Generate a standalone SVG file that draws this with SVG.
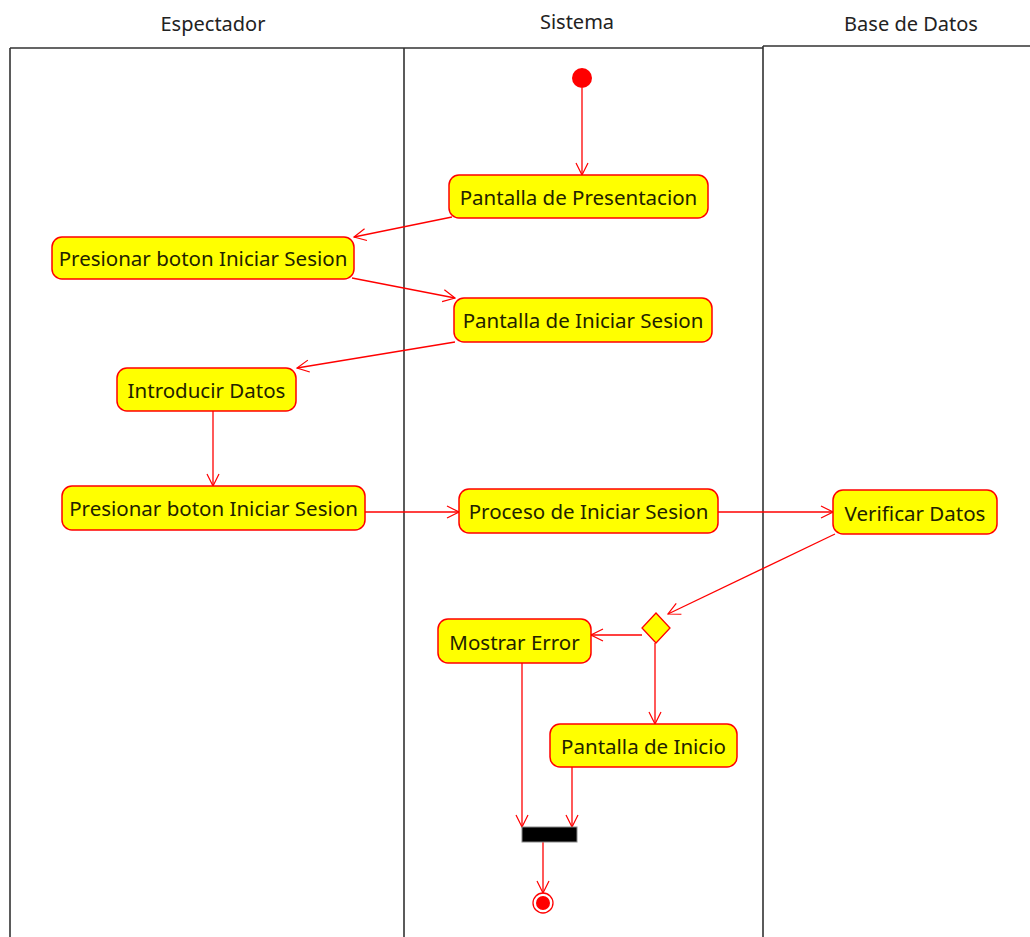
<svg xmlns="http://www.w3.org/2000/svg" width="1030" height="937" viewBox="0 0 1030 937">
  <defs>
    <marker id="open" viewBox="0 0 14 14" refX="13" refY="7" markerWidth="14" markerHeight="14" markerUnits="userSpaceOnUse" orient="auto">
      <path d="M1,1 L13,7 L1,13" fill="none" stroke="#ff0000" stroke-width="1.2"/>
    </marker>
  </defs>
  <style>
    .lane { stroke: #333; stroke-width: 1.6; fill: none; }
    .title { font-family: "Noto Sans", "Open Sans", sans-serif; font-size: 20px; fill: #222; text-anchor: middle; }
    .act rect { fill: #ffff00; stroke: #ff0000; stroke-width: 1.5; }
    .act text { font-family: "Noto Sans", "Open Sans", sans-serif; font-size: 20.5px; fill: #222200; text-anchor: middle; dominant-baseline: central; }
    .flow { stroke: #ff0000; stroke-width: 1.3; fill: none; marker-end: url(#open); }
  </style>
  <rect width="1030" height="937" fill="#ffffff"/>

  <!-- swimlanes -->
  <g id="lanes">
    <text class="title" x="213" y="31">Espectador</text>
    <text class="title" x="577" y="29">Sistema</text>
    <text class="title" x="911" y="31">Base de Datos</text>
    <path class="lane" d="M10,48 H763 M763,46 H1030 M10,48 V937 M404,48 V937 M763,46 V937"/>
  </g>

  <!-- connectors -->
  <g id="connectors">
    <line class="flow" x1="582" y1="88" x2="582" y2="175"/>
    <line class="flow" x1="452" y1="217" x2="354" y2="237"/>
    <line class="flow" x1="352" y1="278" x2="455" y2="298"/>
    <line class="flow" x1="455" y1="342" x2="297" y2="368"/>
    <line class="flow" x1="213" y1="411" x2="213" y2="486"/>
    <line class="flow" x1="365" y1="512" x2="459" y2="512"/>
    <line class="flow" x1="718" y1="512" x2="833" y2="512"/>
    <line class="flow" x1="835" y1="534" x2="668" y2="614"/>
    <line class="flow" x1="642" y1="635" x2="591" y2="635"/>
    <line class="flow" x1="655" y1="643" x2="655" y2="724"/>
    <line class="flow" x1="522" y1="663" x2="522" y2="827"/>
    <line class="flow" x1="572" y1="767" x2="572" y2="827"/>
    <line class="flow" x1="543" y1="842" x2="543" y2="893"/>
  </g>

  <!-- start -->
  <g id="start">
    <circle cx="582" cy="78" r="10" fill="#ff0000"/>
  </g>

  <g id="pantallaPresentacion" class="act">
    <rect x="449" y="175" width="259" height="43" rx="10"/>
    <text x="578.5" y="197">Pantalla de Presentacion</text>
  </g>

  <g id="presionarBoton1" class="act">
    <rect x="52" y="237" width="302" height="42" rx="10"/>
    <text x="203" y="258">Presionar boton Iniciar Sesion</text>
  </g>

  <g id="pantallaIniciarSesion" class="act">
    <rect x="454" y="298" width="258" height="44" rx="10"/>
    <text x="583" y="320">Pantalla de Iniciar Sesion</text>
  </g>

  <g id="introducirDatos" class="act">
    <rect x="117" y="368" width="179" height="43" rx="10"/>
    <text x="206.5" y="390">Introducir Datos</text>
  </g>

  <g id="presionarBoton2" class="act">
    <rect x="62" y="486" width="303" height="44" rx="10"/>
    <text x="213.5" y="508">Presionar boton Iniciar Sesion</text>
  </g>

  <g id="procesoIniciarSesion" class="act">
    <rect x="459" y="489" width="259" height="44" rx="10"/>
    <text x="588.5" y="511">Proceso de Iniciar Sesion</text>
  </g>

  <g id="verificarDatos" class="act">
    <rect x="833" y="490" width="164" height="44" rx="10"/>
    <text x="915" y="513">Verificar Datos</text>
  </g>

  <g id="decision">
    <polygon points="656,613 670,628 656,643 642,628" fill="#ffff00" stroke="#ff0000" stroke-width="1.3"/>
  </g>

  <g id="mostrarError" class="act">
    <rect x="438" y="619" width="153" height="44" rx="10"/>
    <text x="514.5" y="642">Mostrar Error</text>
  </g>

  <g id="pantallaInicio" class="act">
    <rect x="550" y="724" width="187" height="43" rx="10"/>
    <text x="643.5" y="746">Pantalla de Inicio</text>
  </g>

  <g id="join">
    <rect x="522" y="827" width="55" height="15" fill="#000000" stroke="#888" stroke-width="1"/>
  </g>

  <g id="end">
    <circle cx="543" cy="903" r="10" fill="none" stroke="#ff0000" stroke-width="1.3"/>
    <circle cx="543" cy="903" r="7" fill="#ff0000"/>
  </g>
</svg>
